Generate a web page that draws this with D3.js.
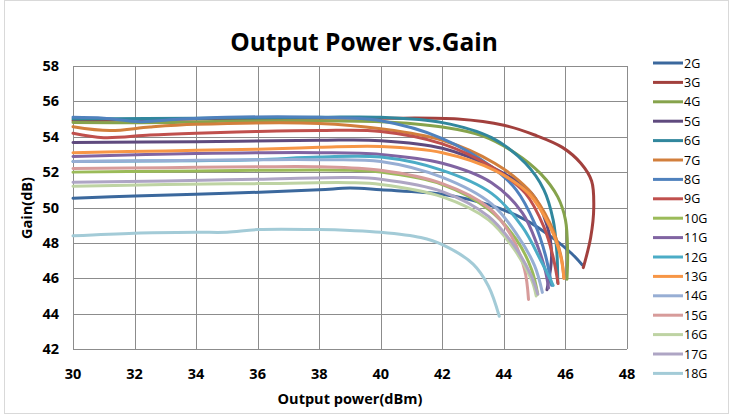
<!DOCTYPE html>
<html>
<head>
<meta charset="utf-8">
<script src="https://cdn.jsdelivr.net/npm/d3@7"></script>
<style>
  body { margin: 0; background: #fff; }
  text { font-family: "Open Sans", "DejaVu Sans", sans-serif; }
  .title { font-size: 24.5px; font-weight: bold; }
  .tick-lbl { font-size: 14.5px; font-weight: bold; }
  .axis-title { font-size: 14.5px; font-weight: bold; }
  .legend-lbl { font-size: 12.5px; }
</style>
</head>
<body>
<svg id="chart" width="733" height="418"></svg>
<script>
// series names + colours (legend order)
var seriesNames = ['2G','3G','4G','5G','6G','7G','8G','9G','10G','11G','12G','13G','14G','15G','16G','17G','18G'];
var seriesColors = ['#3b689d','#a2403d','#86a34c','#5f4a7e','#31879d','#d27f3c',
                    '#4f81bd','#c0504d','#9bbb59','#8064a2','#4bacc6','#f79646',
                    '#97aed4','#d79b9a','#bed3a3','#aea5c4','#a3cbd7'];

// x tick values / y tick values
var xTicks = [30,32,34,36,38,40,42,44,46,48];
var yTicks = [42,44,46,48,50,52,54,56,58];

// [output power dBm, gain dB]
var s2G  = [[30,50.52],[32,50.65],[35,50.8],[38,51.0],[39,51.1],[40,51.0],[42,50.75],[43.6,50.1],[44.7,49.3],[45.65,48.2],[46.2,47.4],[46.55,46.75]];
var s3G  = [[30,54.9],[34,55.0],[38,55.05],[40,55.05],[42.5,55.0],[44,54.65],[45,54.1],[45.9,53.4],[46.5,52.5],[46.85,51.5],[46.92,50.0],[46.82,48.3],[46.58,46.6]];
var s4G  = [[30,54.8],[33,54.8],[36,54.9],[40,54.85],[42,54.55],[43.3,54.05],[44.35,53.1],[45.2,51.9],[45.75,50.6],[46.0,49.3],[46.07,47.5],[46.05,45.95]];
var s5G  = [[30,53.67],[34,53.72],[38,53.8],[40,53.78],[42,53.35],[43.7,52.2],[44.9,50.8],[45.4,49.0],[45.55,47.3],[45.4,45.35]];
var s6G  = [[30,55.0],[34,55.05],[38,55.1],[40,55.1],[42,54.8],[43.6,53.95],[44.7,52.5],[45.3,51.0],[45.6,49.3],[45.72,47.5],[45.75,45.75]];
var s7G  = [[30,54.57],[31.2,54.35],[32.5,54.55],[34,54.7],[38,54.75],[40,54.45],[42,53.8],[43.7,52.5],[44.8,51.0],[45.5,49.1],[45.85,47.3],[45.95,46.0]];
var s8G  = [[30,55.1],[31,55.05],[32.2,54.85],[33.5,55.0],[35,55.1],[38,55.1],[40,54.9],[42,53.9],[43.6,52.3],[44.4,51.0],[45.0,49.1],[45.35,47.3],[45.55,45.6]];
var s9G  = [[30,54.2],[31,53.95],[32.5,54.1],[34,54.2],[36,54.3],[38,54.35],[40,54.3],[42,53.6],[43.6,52.3],[44.7,50.8],[45.3,48.9],[45.6,47.2],[45.76,45.7]];
var s10G = [[30,52.0],[33,52.05],[36,52.1],[39,52.1],[40,52.0],[42,51.3],[43.5,49.9],[44.4,48.2],[44.9,46.5],[45.1,45.1]];
var s11G = [[30,52.88],[34,53.05],[38,53.1],[40,53.0],[42,52.5],[43.6,51.4],[44.6,49.7],[45.1,47.8],[45.35,46.4],[45.45,45.45]];
var s12G = [[30,52.6],[34,52.65],[36,52.7],[38,52.85],[40,52.85],[42,52.1],[43.6,50.8],[44.6,48.9],[45.2,47.0],[45.6,45.6]];
var s13G = [[30,53.1],[33,53.2],[36,53.3],[38,53.4],[40,53.45],[42,53.1],[43.7,52.1],[44.8,50.8],[45.5,48.9],[45.85,47.2],[45.95,46.0]];
var s14G = [[30,52.6],[33,52.65],[36,52.7],[38,52.7],[40,52.6],[42,51.7],[43.6,50.2],[44.45,48.4],[45.0,46.7],[45.25,45.2]];
var s15G = [[30,52.2],[33,52.25],[36,52.3],[38,52.3],[40,52.1],[42,51.35],[43.5,50.0],[44.24,48.4],[44.67,46.5],[44.8,44.8]];
var s16G = [[30,51.2],[33,51.3],[36,51.35],[39,51.4],[40,51.3],[42,50.6],[43.5,49.3],[44.35,47.6],[44.9,45.9],[45.05,45.0]];
var s17G = [[30,51.43],[33,51.5],[36,51.6],[39,51.7],[40,51.6],[42,50.9],[43.5,49.5],[44.35,47.8],[44.9,46.1],[45.1,45.1]];
var s18G = [[30,48.4],[32,48.55],[34,48.6],[35,48.6],[36,48.75],[38,48.75],[39,48.7],[40,48.6],[41.3,48.3],[42,47.9],[43,46.8],[43.5,45.55],[43.85,43.85]];

var seriesData = [s2G,s3G,s4G,s5G,s6G,s7G,s8G,s9G,s10G,s11G,s12G,s13G,s14G,s15G,s16G,s17G,s18G];

var svg = d3.select('#chart');
var plotLeft = 73, plotRight = 627, plotTop = 66, plotBottom = 349;

var scaleX = d3.scaleLinear().domain([30,48]).range([plotLeft,plotRight]);
var scaleY = d3.scaleLinear().domain([42,58]).range([plotBottom,plotTop]);

// outer chart border
svg.append('rect')
   .attr('x',4.5).attr('y',0.5)
   .attr('width',724).attr('height',413)
   .attr('fill','none')
   .attr('stroke','#d9d9d9');

// title
svg.append('text')
   .attr('class','title')
   .attr('x',364).attr('y',51)
   .attr('text-anchor','middle')
   .text('Output Power vs.Gain');

// grid
var grid = svg.append('g');
grid.selectAll('.vgrid').data(xTicks).enter().append('line')
    .attr('x1',function(d){return Math.round(scaleX(d))+0.5;})
    .attr('x2',function(d){return Math.round(scaleX(d))+0.5;})
    .attr('y1',plotTop).attr('y2',plotBottom)
    .attr('stroke','#8c8c8c').attr('stroke-width',1);
grid.selectAll('.hgrid').data(yTicks).enter().append('line')
    .attr('x1',plotLeft).attr('x2',plotRight)
    .attr('y1',function(d){return Math.round(scaleY(d))+0.5;})
    .attr('y2',function(d){return Math.round(scaleY(d))+0.5;})
    .attr('stroke','#8c8c8c').attr('stroke-width',1);

// tick labels
svg.selectAll('.xlbl').data(xTicks).enter().append('text')
   .attr('class','tick-lbl')
   .attr('x',function(d){return scaleX(d);})
   .attr('y',379)
   .attr('text-anchor','middle')
   .text(function(d){return d;});
svg.selectAll('.ylbl').data(yTicks).enter().append('text')
   .attr('class','tick-lbl')
   .attr('x',59)
   .attr('y',function(d){return scaleY(d)+5;})
   .attr('text-anchor','end')
   .text(function(d){return d;});

// axis titles
svg.append('text')
   .attr('class','axis-title')
   .attr('x',350).attr('y',404)
   .attr('text-anchor','middle')
   .text('Output power(dBm)');
svg.append('text')
   .attr('class','axis-title')
   .attr('transform','translate(32,208) rotate(-90)')
   .attr('text-anchor','middle')
   .text('Gain(dB)');

// series lines
var line = d3.line()
    .x(function(d){return scaleX(d[0]);})
    .y(function(d){return scaleY(d[1]);})
    .curve(d3.curveCatmullRom.alpha(0.5));

svg.append('g').selectAll('path').data(seriesData).enter().append('path')
   .attr('d',line)
   .attr('fill','none')
   .attr('stroke',function(d,i){return seriesColors[i];})
   .attr('stroke-width',3)
   .attr('stroke-linecap','round')
   .attr('stroke-linejoin','round');

// legend
var legend = svg.append('g').selectAll('g').data(seriesNames).enter().append('g')
   .attr('transform',function(d,i){return 'translate(653,'+(63+i*19.4)+')';});
legend.append('line')
   .attr('x1',0).attr('x2',30)
   .attr('stroke',function(d,i){return seriesColors[i];})
   .attr('stroke-width',3);
legend.append('text')
   .attr('class','legend-lbl')
   .attr('x',31).attr('y',4.5)
   .text(function(d){return d;});
</script>
</body>
</html>
